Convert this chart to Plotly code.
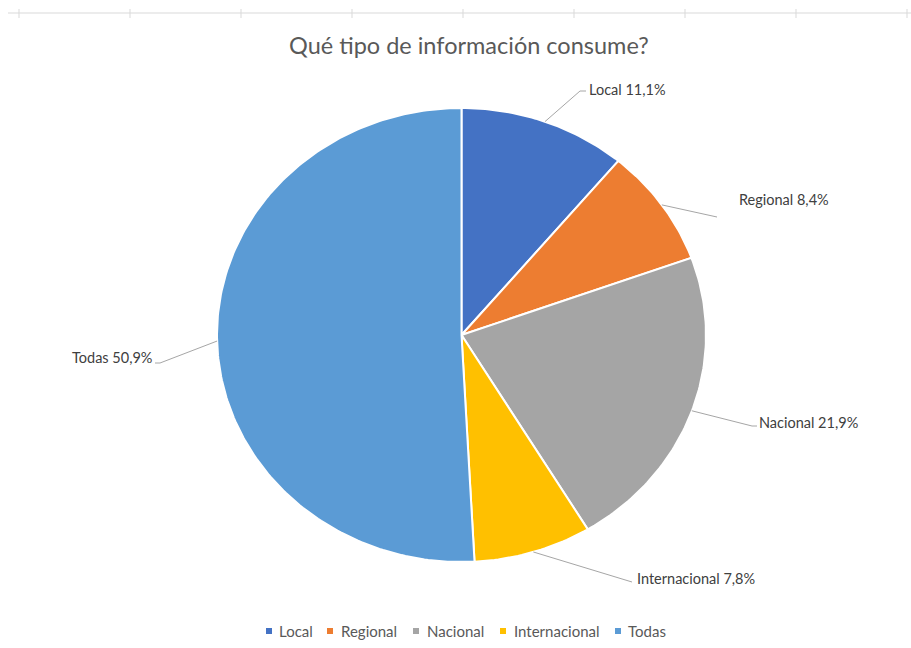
import numpy as np
import plotly.graph_objects as go

# ---------------- data ----------------
categories = ["Local", "Regional", "Nacional", "Internacional", "Todas"]
values = [11.1, 8.4, 21.9, 7.8, 50.9]
title_text = "Qué tipo de información consume?"

# ---------------- style ----------------
colors = ["#4472C4", "#ED7D31", "#A5A5A5", "#FFC000", "#5B9BD5"]
FONT = "Lato, 'Open Sans', sans-serif"
W, H = 911, 648
CX, CY, RX, RY = 461.5, 335.0, 244.5, 227.0   # pie centre / radii in pixels (stretched)

# label anchor points (where the leader line ends) and text anchor
label_elbow = [(580, 91), None, (752, 426), None, (160, 363)]
label_end = [(586, 91), (717, 217), (757, 426), (632, 582), (155, 363)]
label_text_pos = [(587, 89, "left"), (737, 199, "left"), (757, 422, "left"),
                  (635, 578, "left"), (154, 357, "right")]
legend_marker_x = [269, 330, 416, 503, 618]
legend_text_x = [277, 339, 425, 512, 626]
LEGEND_Y = 631

fig = go.Figure()

total = float(sum(values))
cum = 0.0
mids = []
for cat, val, col in zip(categories, values, colors):
    a0 = cum / total * 2 * np.pi
    a1 = (cum + val) / total * 2 * np.pi
    cum += val
    n = max(int((a1 - a0) / (2 * np.pi) * 400), 8)
    th = np.linspace(a0, a1, n)
    xs = np.concatenate([[CX], CX + RX * np.sin(th), [CX]])
    ys = np.concatenate([[CY], CY - RY * np.cos(th), [CY]])
    fig.add_trace(go.Scatter(x=xs, y=ys, mode="lines", fill="toself",
                             fillcolor=col, line=dict(color="white", width=2),
                             name=cat, showlegend=False, hoverinfo="name"))
    mids.append((a0 + a1) / 2)

# leader lines + labels
for i, (cat, val) in enumerate(zip(categories, values)):
    m = mids[i]
    sx, sy = CX + RX * np.sin(m), CY - RY * np.cos(m)
    pts = [(sx, sy)]
    if label_elbow[i] is not None:
        pts.append(label_elbow[i])
    pts.append(label_end[i])
    fig.add_trace(go.Scatter(x=[p[0] for p in pts], y=[p[1] for p in pts],
                             mode="lines", line=dict(color="#A6A6A6", width=1),
                             showlegend=False, hoverinfo="skip"))
    tx, ty, anchor = label_text_pos[i]
    txt = f"{cat} {val:.1f}%".replace(".", ",")
    fig.add_annotation(x=tx, y=ty, text=txt, showarrow=False, xanchor=anchor,
                       yanchor="middle", font=dict(family=FONT, size=14.5, color="#404040"))

# legend (Excel style)
fig.add_trace(go.Scatter(x=legend_marker_x, y=[LEGEND_Y] * len(categories),
                         mode="markers", marker=dict(symbol="square", size=6, color=colors),
                         showlegend=False, hoverinfo="skip"))
for cat, lx in zip(categories, legend_text_x):
    fig.add_annotation(x=lx, y=LEGEND_Y, text=cat, showarrow=False, xanchor="left",
                       yanchor="middle", font=dict(family=FONT, size=15, color="#595959"))

# title
fig.add_annotation(x=469, y=45, text=title_text, showarrow=False, xanchor="center",
                   yanchor="middle", font=dict(family=FONT, size=23.5, color="#595959"))

# faint ruler at the top (screenshot artefact)
shapes = [dict(type="line", xref="x", yref="y", x0=8, x1=911, y0=13, y1=13,
               line=dict(color="#D9D9D9", width=1))]
for k in range(9):
    tx = 19 + k * 111
    shapes.append(dict(type="line", xref="x", yref="y", x0=tx, x1=tx, y0=9, y1=18,
                       line=dict(color="#D9D9D9", width=1)))

fig.update_layout(
    width=W, height=H, margin=dict(l=0, r=0, t=0, b=0),
    paper_bgcolor="white", plot_bgcolor="white", shapes=shapes,
    xaxis=dict(range=[0, W], visible=False, fixedrange=True),
    yaxis=dict(range=[H, 0], visible=False, fixedrange=True),
    showlegend=False,
)

fig.write_html("out.html")
